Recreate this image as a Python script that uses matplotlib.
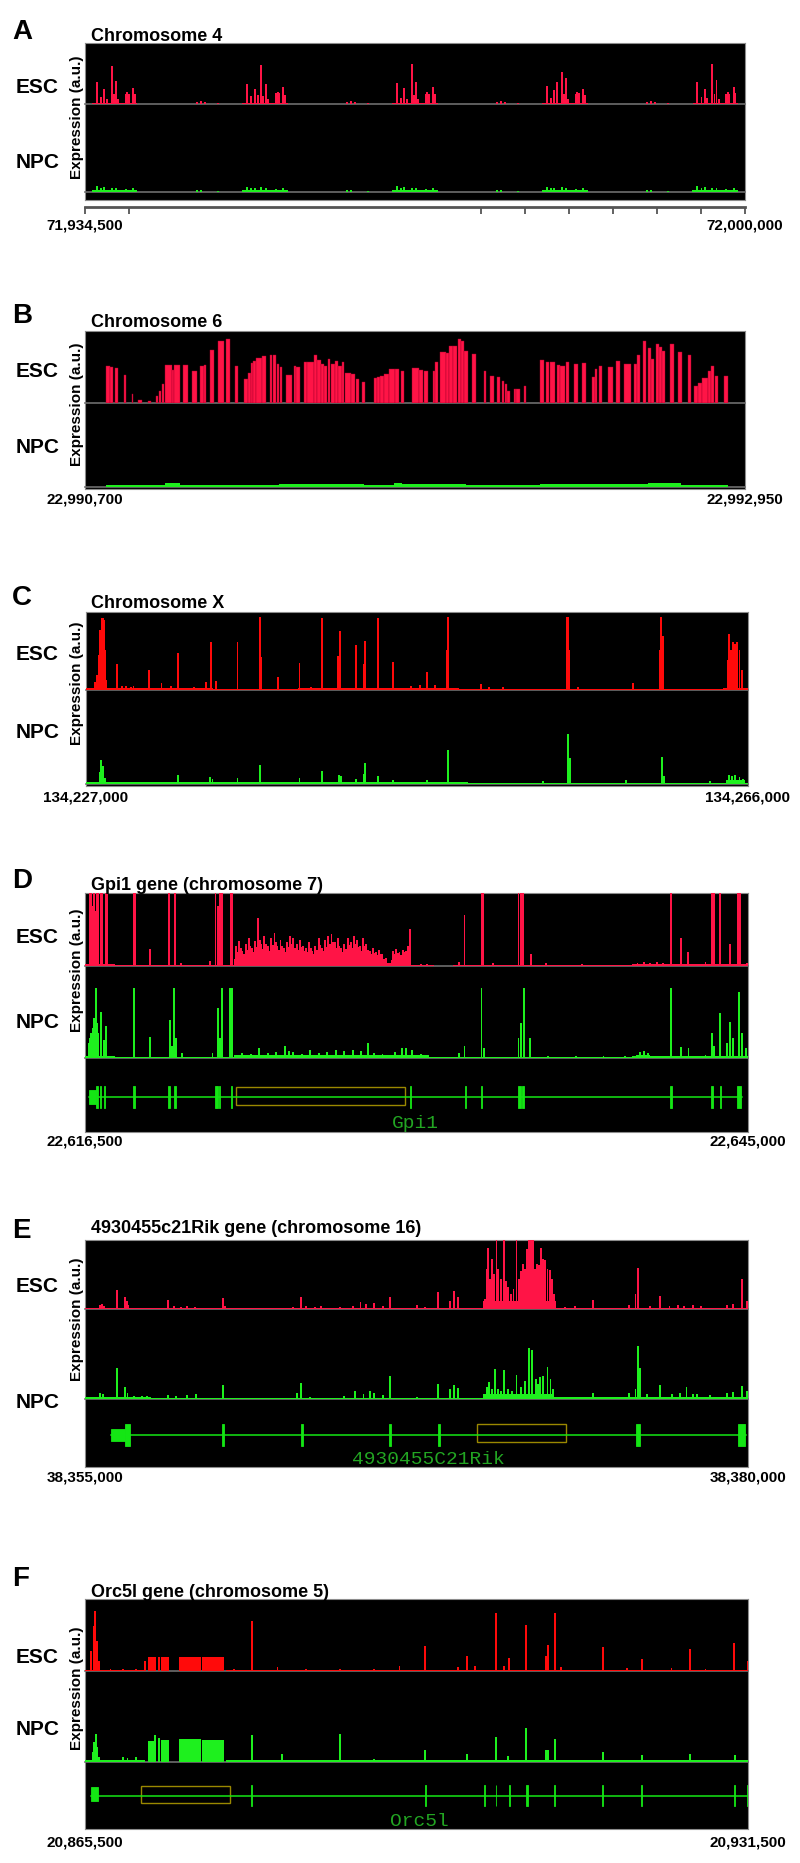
import matplotlib
matplotlib.use("Agg")
import matplotlib.pyplot as plt
from matplotlib.patches import Rectangle

plt.rcParams['font.family'] = ['Liberation Sans', 'DejaVu Sans']

# ---------------------------------------------------------------- data
# genomic windows (bp); all positions below are bp offsets from window start
A_WINDOW = (71934500, 72000000)
B_WINDOW = (22990700, 22992950)
C_WINDOW = (134227000, 134266000)
D_WINDOW = (22616500, 22645000)
E_WINDOW = (38355000, 38380000)
F_WINDOW = (20865500, 20931500)

TITLES = ['Chromosome 4', 'Chromosome 6', 'Chromosome X',
          'Gpi1 gene (chromosome 7)', '4930455c21Rik gene (chromosome 16)',
          'Orc5l gene (chromosome 5)']
LETTERS = ['A', 'B', 'C', 'D', 'E', 'F']
TRACK_NAMES = ['ESC', 'NPC']
Y_LABEL = 'Expression (a.u.)'

A_RULER_TICKS = [0, 4400, 39300, 43700, 48000, 52400, 56800, 61100, 65500]

# ---- panel A (heights in a.u.)
A_ESC_POS = [1161, 1588, 1915, 2153, 2650, 2878, 3076, 3305, 4039, 4198, 4367, 4793, 4962,
             11115, 11512, 11909, 13199,
             16047, 16444, 16871, 17198, 17466, 17695, 17962, 18191, 18925, 19124, 19282, 19679, 19848,
             26001, 26398, 26795, 28085,
             30933, 31360, 31687, 31925, 32421, 32650, 32848, 33077, 33811, 33970, 34138, 34565, 34734,
             40888, 41285, 41682, 42972,
             45819, 46246, 46574, 46812, 47308, 47536, 47734, 47963, 48697, 48856, 49025, 49452, 49620,
             55774, 56171, 56568, 57858,
             60755, 61181, 61509, 61747, 62243, 62471, 62670, 62898, 63633, 63791, 63960, 64387, 64555]
A_ESC_H = [22, 7, 15, 5, 38, 10, 23, 5, 10, 12, 10, 16, 10,
           2.5, 3, 2, 1.5,
           20, 8, 15, 9, 39, 8, 20, 5, 11, 12, 11, 17, 9,
           2.5, 3, 2, 1.5,
           21, 6, 16, 5, 40, 9, 22, 5, 10, 12, 10, 17, 10,
           2.5, 3, 2, 1.5,
           18, 6, 14, 22, 32, 10, 26, 5, 10, 12, 11, 15, 9,
           2.5, 3, 2, 1.5,
           22, 7, 15, 6, 40, 10, 24, 5, 10, 12, 10, 17, 11]
A_ESC_BG = [(700, 5200, 1.5), (15600, 20100, 1.5), (30500, 35000, 1.5),
            (45400, 49900, 1.5), (60300, 64800, 1.5)]
A_NPC_POS = [1161, 1588, 1915, 2650, 3076, 4039, 4793,
             11115, 11512, 13199,
             16047, 16444, 16871, 17466, 17962, 18925, 19679,
             26001, 26398, 28085,
             30933, 31360, 31687, 32421, 32848, 33811, 34565,
             40888, 41285, 42972,
             45819, 46246, 46574, 47308, 47734, 48697, 49452,
             55774, 56171, 57858,
             60755, 61181, 61509, 62243, 62670, 63633, 64387]
A_NPC_H = [6, 4, 5, 4.5, 4, 3.5, 4,
           2, 2, 1.5,
           5.5, 4, 4.5, 5, 4, 3.5, 4,
           2, 2, 1.5,
           6, 4, 5, 4.5, 4, 3.5, 4,
           2, 2, 1.5,
           5, 4, 4.5, 5, 4, 3.5, 4,
           2, 2, 1.5,
           6, 4, 5, 4.5, 4, 3.5, 4]
A_NPC_BG = [(650, 5200, 2.5), (15550, 20100, 2.5), (30450, 35000, 2.5),
            (45350, 49900, 2.5), (60250, 64800, 2.5)]

# ---- panel B (ESC as contiguous bars: start, end, height)
B_ESC_START = [72, 84, 101, 133, 159, 182, 216, 242, 252, 262,
               274, 296, 303, 335, 365, 392, 404, 427, 454, 482,
               513, 541, 555, 565, 574, 584, 603, 629, 640, 656,
               665, 685, 711, 721, 747, 757, 779, 790, 805, 815,
               828, 839, 851, 862, 877, 888, 908, 923, 945, 985,
               995, 1007, 1021, 1038, 1058, 1076, 1115, 1139, 1156, 1185,
               1194, 1211, 1229, 1240, 1255, 1272, 1283, 1293, 1321, 1360,
               1381, 1406, 1420, 1432, 1439, 1461, 1471, 1497, 1550, 1572,
               1586, 1608, 1621, 1640, 1666, 1694, 1728, 1738, 1752, 1784,
               1810, 1837, 1872, 1882, 1901, 1918, 1928, 1947, 1957, 1968,
               1994, 2023, 2055, 2077, 2091, 2105, 2123, 2134, 2149, 2177]
B_ESC_END = [84, 95, 112, 140, 164, 193, 226, 248, 260, 270,
             296, 303, 324, 352, 381, 404, 414, 440, 473, 495,
             521, 555, 565, 574, 584, 603, 617, 637, 652, 663,
             672, 707, 721, 733, 757, 779, 790, 805, 815, 825,
             836, 851, 862, 877, 883, 908, 919, 934, 956, 995,
             1005, 1021, 1035, 1058, 1070, 1087, 1139, 1151, 1171, 1194,
             1204, 1229, 1240, 1255, 1269, 1283, 1293, 1305, 1332, 1367,
             1396, 1416, 1428, 1439, 1448, 1471, 1482, 1505, 1565, 1583,
             1601, 1618, 1635, 1651, 1681, 1709, 1738, 1745, 1762, 1800,
             1824, 1860, 1882, 1892, 1914, 1928, 1940, 1957, 1968, 1976,
             2007, 2036, 2065, 2091, 2102, 2123, 2134, 2146, 2159, 2192]
B_ESC_H = [37, 36, 35, 28, 9, 3, 2, 7, 12, 19,
           38, 33, 38, 38, 32, 37, 38, 53, 62, 64,
           37, 24, 30, 40, 42, 45, 47, 48, 48, 39,
           36, 28, 37, 36, 41, 41, 48, 43, 39, 37,
           44, 39, 42, 37, 41, 30, 29, 24, 21, 25,
           26, 27, 29, 34, 34, 32, 35, 33, 32, 32,
           41, 51, 50, 57, 57, 64, 62, 52, 49, 32,
           27, 26, 22, 19, 12, 14, 14, 17, 43, 41,
           41, 38, 37, 41, 39, 40, 26, 34, 37, 36,
           42, 39, 39, 48, 62, 55, 44, 59, 56, 52,
           59, 51, 48, 17, 20, 25, 32, 37, 27, 27]
B_NPC_BG = [(72, 274, 2.3), (274, 324, 4), (324, 663, 2.5), (663, 952, 3.5),
            (952, 1053, 2.5), (1053, 1082, 4.5), (1082, 1197, 2.8), (1197, 1298, 3),
            (1298, 1550, 2), (1550, 1918, 3.5), (1918, 2033, 4.5), (2033, 2192, 2.2)]

# ---- panel C
C_ESC_POS = [550, 650, 750, 850, 925, 1000, 1075, 1150, 1200, 1825, 2125, 2375, 2625, 2800,
             3700, 4450, 5000, 5425, 6375, 7075, 7350, 7675, 8925, 10275, 10325, 11325, 12575,
             13250, 13900, 14825, 14950, 15900, 16350, 16425, 17225, 18100, 19125, 19675, 20075,
             20550, 21275, 21325, 23250, 23750, 24575, 28325, 28400, 28475, 29000, 32250, 33825,
             33875, 34000, 37800, 37875, 38000, 38125, 38250, 38375, 38500, 38625]
C_ESC_H = [8, 15, 35, 60, 72, 72, 70, 40, 10, 26, 4, 4, 3, 4,
           20, 7, 4, 37, 3, 8, 48, 9, 48, 73, 33, 13, 27,
           3, 72, 34, 59, 45, 26, 49, 72, 28, 4, 5, 18,
           5, 40, 73, 6, 3, 3, 73, 73, 40, 3, 7, 40,
           73, 54, 30, 56, 40, 48, 46, 48, 40, 20]
C_ESC_BG = [(0, 500, 2), (1200, 3000, 2.5), (3000, 7500, 2), (7500, 12500, 1.5),
            (12500, 22000, 2), (22000, 25000, 1.5), (25000, 37500, 1.2), (37500, 39000, 2)]
C_NPC_POS = [825, 900, 1000, 1125, 5425, 7325, 7450, 8925, 10275, 12575, 13900, 14925, 15000,
             15900, 16350, 16425, 17225, 18100, 20075, 21325, 26925, 28375, 28500, 31825, 33925,
             34050, 36750, 37875, 38050, 38250, 38500, 38700]
C_NPC_H = [12, 24, 18, 6, 9, 7, 5, 6, 19, 6, 13, 9, 8,
           5, 10, 21, 8, 4, 4, 34, 3, 50, 26, 4, 27,
           8, 3, 9, 8, 9, 7, 5]
C_NPC_BG = [(0, 750, 1.8), (750, 1150, 6), (1150, 22500, 1.8), (22500, 39000, 1.2),
            (37700, 38800, 4)]

# ---- panel D
D_ESC_POS = [219, 274, 329, 384, 438, 493, 566, 676, 749, 895, 950, 1188, 2101, 2138, 2777,
             3599, 3855, 4111, 5390, 5609, 5700, 5810, 5883, 6267, 6321,
             6486, 6614, 6760, 6906, 7034, 7162, 7308, 7454, 7582, 7710, 7856, 8002, 8148, 8276,
             8404, 8550, 8678, 8806, 8952, 9098, 9226, 9354, 9500, 9647, 9774, 9902, 10048,
             10176, 10322, 10450, 10597, 10743, 10871, 10999, 11145, 11291, 11419, 11547, 11693,
             11839, 11967, 12095, 12241, 12387, 12515, 12643, 12789, 12935, 13246, 13374, 13520,
             13666, 13794, 13885, 13977,
             14433, 14707, 16078, 16315, 17046, 17101, 17539, 18635, 18727, 18818, 19184, 19823,
             21376, 22472, 23751, 24025, 24299, 24573, 24847, 25176, 25633, 25907, 26674, 26948,
             27021, 27314, 27734, 28081, 28172, 28446]
D_ESC_H = [75, 75, 60, 75, 55, 75, 75, 75, 75, 75, 75, 2, 75, 75, 17,
           75, 75, 3, 5, 75, 60, 75, 75, 75, 75,
           20, 25, 15, 22, 28, 18, 25, 48, 22, 30, 20, 28, 33, 20,
           26, 18, 24, 30, 28, 22, 26, 20, 18, 24, 15, 20, 28,
           18, 26, 30, 32, 24, 28, 18, 22, 28, 24, 30, 26,
           20, 28, 22, 15, 18, 14, 16, 12, 8, 15, 17, 14,
           16, 15, 20, 37,
           2, 2, 4, 51, 75, 75, 3, 75, 75, 75, 12, 3,
           2, 1.5, 3, 4, 3, 4, 3, 75, 28, 14, 4, 75,
           75, 75, 22, 75, 75, 3]
# extra spikes of the dense ESC region between exons (between the main spikes above)
D_ESC_FILL_POS = [6550, 6690, 6830, 6970, 7100, 7235, 7380, 7520, 7645, 7785, 7930, 8075,
                  8210, 8340, 8480, 8615, 8740, 8880, 9025, 9160, 9290, 9425, 9575, 9710,
                  9840, 9975, 10110, 10250, 10385, 10520, 10670, 10805, 10935, 11070, 11220,
                  11355, 11480, 11620, 11765, 11905, 12030, 12170, 12315, 12450, 12580, 12715,
                  13310, 13445, 13590, 13730]
D_ESC_FILL_H = [14, 18, 12, 16, 20, 14, 19, 26, 17, 22, 15, 21,
                24, 16, 20, 14, 19, 22, 18, 16, 19, 15, 14, 18,
                12, 16, 21, 15, 19, 22, 24, 18, 20, 14, 17,
                21, 18, 22, 19, 15, 20, 16, 12, 13, 11, 12,
                12, 13, 11, 14]
D_ESC_BG = [(0, 1300, 2), (1300, 6400, 1.5), (6400, 12900, 7), (12900, 13150, 3),
            (13150, 14000, 6), (14000, 15000, 1.5), (15800, 21000, 1.5), (21000, 23500, 0.8),
            (23500, 28500, 2)]
D_NPC_POS = [219, 274, 329, 402, 457, 512, 566, 694, 822, 914, 2101, 2777, 3654, 3745, 3837,
             3928, 4166, 5481, 5700, 5810, 5883, 6230, 6303,
             6760, 7125, 7491, 7856, 8222, 8587, 8770, 8952, 9318, 9683, 10049, 10414, 10779,
             11145, 11510, 11876, 12150, 12424, 12789, 13337, 13611, 13794, 14068, 14433,
             16078, 16315, 17046, 17137, 18635, 18727, 18873, 19147, 19914, 21102, 22289, 23203,
             23842, 24025, 24208, 25176, 25633, 25943, 26674, 26948, 27040, 27314, 27588, 27734,
             27862, 28099, 28227, 28410]
D_NPC_H = [20, 25, 30, 40, 70, 35, 25, 46, 18, 32, 70, 21, 38, 12, 70,
           20, 5, 5, 50, 20, 70, 70, 70,
           5, 4, 10, 5, 6, 12, 7, 6, 4, 8, 5, 6, 8,
           7, 8, 7, 15, 5, 4, 6, 10, 10, 8, 4,
           5, 12, 70, 10, 20, 35, 70, 20, 2, 2, 2, 2,
           6, 7, 5, 70, 11, 10, 3, 25, 12, 45, 15, 36,
           20, 66, 25, 10]
D_NPC_BG = [(0, 1300, 2), (150, 600, 15), (1300, 6400, 1.5), (6400, 14800, 3),
            (14800, 20000, 1.5), (20000, 23500, 0.8), (23500, 28500, 2), (23700, 24300, 3.5)]
D_GENE = 'Gpi1'
D_GENE_SPAN = (183, 28227)
D_UTR = [(183, 457)]
D_EXON_START = [475, 639, 804, 2065, 3581, 3818, 5572, 5755, 6267, 13977, 16315, 17028,
                18599, 18782, 25158, 26930, 27277, 28044]
D_EXON_END = [548, 694, 877, 2156, 3654, 3910, 5700, 5810, 6321, 14031, 16370, 17082,
              18727, 18891, 25213, 26985, 27350, 28191]
D_ROI = (6486, 13739)

# ---- panel E
E_ESC_POS = [561, 641, 721, 1218, 1523, 1571, 1635, 1924, 2244, 3126,
             3366, 3607, 3847, 4136, 5210, 5290, 7374, 7855, 8143, 8336,
             8656, 8897, 9618, 10099, 10387, 10580, 10900, 11221, 11494, 12503,
             12824, 13305, 13754, 13914, 14074,
             15068, 15148, 15180, 15261, 15357, 15421, 15517, 15581, 15677, 15790,
             15870, 15966, 16062, 16158, 16270, 16351, 16431, 16511, 16591, 16671,
             16751, 16815, 16879, 16959, 17040, 17120, 17200, 17280, 17360, 17441,
             17521, 17601, 17681,
             18114, 18483, 19156, 20518, 20759, 20839, 21320, 21689, 22041, 22362,
             22602, 22923, 23244, 24205, 24446, 24766, 24960]
E_ESC_H = [4, 5, 3, 19, 12, 8, 4, 1.5, 1.5, 9,
           3, 2, 3, 2.5, 11, 3, 1.5, 2, 12, 3,
           2, 3, 2, 3, 7, 5, 6, 3, 12, 4,
           2, 17, 8, 18, 12,
           10, 40, 61, 30, 50, 35, 75, 40, 30, 75,
           28, 22, 15, 20, 75, 30, 38, 45, 40, 60,
           75, 75, 75, 40, 45, 44, 61, 50, 49, 40,
           39, 30, 15,
           2, 3, 9, 4, 15, 41, 3, 13, 3, 4,
           3, 4, 3, 4, 5, 30, 8]
E_ESC_BG = [(0, 15000, 1), (15000, 17750, 8), (17750, 25000, 1.2)]
E_NPC_POS = [561, 673, 1218, 1523, 1603, 1843, 2164, 2324, 3126, 3446,
             3847, 4200, 5210, 7983, 8143, 8496, 9778, 10179, 10500, 10740,
             10900, 11221, 11494, 12503, 13305, 13754, 13914, 14074,
             15148, 15229, 15357, 15469, 15581, 15677, 15790, 15950, 16110, 16270,
             16431, 16591, 16751, 16864, 16992, 17072, 17152, 17280, 17441, 17553,
             17633,
             19156, 20518, 20759, 20839, 20919, 21192, 21689, 22121, 22442, 22682,
             22923, 23083, 23564, 24205, 24446, 24766, 24960]
E_NPC_H = [6, 5, 31, 12, 6, 3, 3, 3, 4, 3,
           4, 5, 14, 6, 16, 2, 3, 8, 5, 8,
           6, 4, 23, 2, 15, 10, 14, 11,
           12, 17, 10, 30, 10, 8, 29, 10, 8, 24,
           12, 18, 51, 49, 20, 15, 22, 23, 32, 20,
           10,
           6, 6, 10, 53, 31, 5, 14, 5, 6, 12,
           5, 5, 4, 6, 7, 13, 8]
E_NPC_BG = [(0, 2500, 2), (2500, 15000, 1.5), (15000, 17700, 5), (17700, 25000, 2)]
E_GENE = '4930455C21Rik'
E_GENE_SPAN = (962, 24927)
E_UTR = [(962, 1523)]
E_EXON_START = [1523, 5162, 8143, 11477, 13305, 20759, 24638]
E_EXON_END = [1683, 5258, 8207, 11542, 13369, 20919, 24879]
E_ROI = (14796, 18146)

# ---- panel F
F_ESC_POS = [635, 846, 1015, 1185, 1354, 2539, 3808, 5077, 5966, 14809,
             16586, 19166, 22001, 25386, 28771, 31309, 33848, 37148, 37994, 38841,
             40956, 41675, 42225, 43918, 45864, 46118, 46753, 47387, 51534, 53945,
             55426, 58388, 60207, 61773, 64650, 65950]
F_ESC_H = [20, 45, 60, 30, 10, 2, 2, 2, 10, 2,
           50, 4, 2, 2, 2, 5, 25, 4, 15, 5,
           58, 5, 13, 46, 15, 26, 58, 4, 24, 3,
           12, 3, 22, 2, 28, 10]
F_ESC_BLOCKS = [(6262, 7108, 14), (7235, 7447, 14), (7531, 8335, 14),
                (9393, 11551, 14), (11678, 13878, 14)]
F_ESC_BG = [(0, 6000, 1.5), (14000, 66000, 1.5)]
F_NPC_POS = [762, 931, 1058, 1185, 1354, 3808, 4231, 5077, 6981, 16586,
             19589, 25386, 28771, 33848, 37994, 40956, 42098, 43918, 45906, 46118,
             46753, 51534, 55426, 60207, 64735]
F_NPC_H = [10, 20, 28, 15, 5, 5, 4, 5, 27, 27,
           8, 28, 3, 12, 8, 25, 6, 34, 12, 12,
           23, 10, 7, 8, 7]
F_NPC_BLOCKS = [(6262, 7108, 21), (7235, 7447, 24), (7531, 8335, 22),
                (9393, 11551, 23), (11678, 13878, 22)]
F_NPC_BG = [(0, 6000, 2.5), (14000, 66000, 2.5)]
F_GENE = 'Orc5l'
F_GENE_SPAN = (635, 66000)
F_UTR = [(635, 1269)]
F_EXON_START = [16550, 33800, 39720, 40870, 42180, 43950, 46700, 51480, 55380, 64600, 65880]
F_EXON_END = [16650, 33900, 39820, 40960, 42270, 44050, 46800, 51580, 55470, 64700, 65980]
F_ROI = (5585, 14470)

# ---------------------------------------------------------------- style / layout
CRIMSON = '#ff1446'
RED = '#ff0a0a'
GREEN = '#1ef01e'
GENE_GREEN = '#14e614'
LABEL_GREEN = '#22a522'
ROI_COLOR = '#9a8800'
BASE = '#6e6e6e'

W, H = 800, 1863
fig = plt.figure(figsize=(W / 100, H / 100), dpi=100)
fig.patch.set_facecolor('white')


def frac(x0, x1, y0, y1):
    return [x0 / W, 1 - y1 / H, (x1 - x0) / W, (y1 - y0) / H]


def fy(y):
    return 1 - y / H


PANELS = [
    dict(win=A_WINDOW, esc=(A_ESC_POS, A_ESC_H, A_ESC_BG, []), npc=(A_NPC_POS, A_NPC_H, A_NPC_BG, []),
         esc_color=CRIMSON, gene=None,
         x=(85, 745), box=(43, 200), esc_y=(43, 104), npc_y=(104, 192),
         letter_y=39, title_y=41, esc_lab=93, npc_lab=168, expr=117.5, pad=None),
    dict(win=B_WINDOW, esc=None, npc=([], [], B_NPC_BG, []),
         esc_color=CRIMSON, gene=None,
         x=(85, 745), box=(331, 489), esc_y=(331, 403), npc_y=(403, 487),
         letter_y=323, title_y=327, esc_lab=377, npc_lab=453, expr=404, pad=2.5),
    dict(win=C_WINDOW, esc=(C_ESC_POS, C_ESC_H, C_ESC_BG, []), npc=(C_NPC_POS, C_NPC_H, C_NPC_BG, []),
         esc_color=RED, gene=None,
         x=(86, 748), box=(612, 786), esc_y=(612, 690), npc_y=(690, 784),
         letter_y=605, title_y=608, esc_lab=660, npc_lab=738, expr=683.5, pad=3.0),
    dict(win=D_WINDOW, esc=(D_ESC_POS + D_ESC_FILL_POS, D_ESC_H + D_ESC_FILL_H, D_ESC_BG, []),
         npc=(D_NPC_POS, D_NPC_H, D_NPC_BG, []),
         esc_color=CRIMSON,
         gene=dict(name=D_GENE, span=D_GENE_SPAN, utr=D_UTR, ex=(D_EXON_START, D_EXON_END), roi=D_ROI,
                   y=(1058, 1132), line=1097, exon=(1086, 1108), utr_y=(1090, 1104), roi_y=(1087, 1105), label=1123),
         x=(85, 748), box=(893, 1132), esc_y=(893, 966), npc_y=(966, 1058),
         letter_y=888, title_y=890, esc_lab=943, npc_lab=1028, expr=970, pad=1.8),
    dict(win=E_WINDOW, esc=(E_ESC_POS, E_ESC_H, E_ESC_BG, []), npc=(E_NPC_POS, E_NPC_H, E_NPC_BG, []),
         esc_color=CRIMSON,
         gene=dict(name=E_GENE, span=E_GENE_SPAN, utr=E_UTR, ex=(E_EXON_START, E_EXON_END), roi=E_ROI,
                   y=(1399, 1467), line=1435, exon=(1424, 1446), utr_y=(1429, 1441), roi_y=(1424, 1442), label=1460),
         x=(85, 748), box=(1240, 1467), esc_y=(1240, 1309), npc_y=(1309, 1399),
         letter_y=1238, title_y=1233, esc_lab=1292, npc_lab=1408, expr=1319, pad=2.5),
    dict(win=F_WINDOW, esc=(F_ESC_POS, F_ESC_H, F_ESC_BG, F_ESC_BLOCKS),
         npc=(F_NPC_POS, F_NPC_H, F_NPC_BG, F_NPC_BLOCKS),
         esc_color=RED,
         gene=dict(name=F_GENE, span=F_GENE_SPAN, utr=F_UTR, ex=(F_EXON_START, F_EXON_END), roi=F_ROI,
                   y=(1762, 1829), line=1796, exon=(1785, 1806), utr_y=(1787, 1801), roi_y=(1786, 1803), label=1821),
         x=(85, 748), box=(1599, 1829), esc_y=(1599, 1671), npc_y=(1671, 1762),
         letter_y=1586, title_y=1597, esc_lab=1663, npc_lab=1735, expr=1688, pad=4.5),
]


def track_axes(p, y0, y1, span):
    ax = fig.add_axes(frac(p['x'][0], p['x'][1], y0, y1))
    ax.set_xlim(0, span)
    ax.set_ylim(0, y1 - y0)
    ax.axis('off')
    return ax


def draw_track(ax, data, color, span, px_w):
    pos, hts, bg, blocks = data
    w = span / px_w * 1.9
    for s, e, v in bg:
        ax.bar(s, v, width=e - s, align='edge', color=color, linewidth=0)
    for s, e, v in blocks:
        ax.bar(s, v, width=e - s, align='edge', color=color, linewidth=0)
    if len(pos):
        ax.bar(pos, hts, width=w, color=color, linewidth=0)
    ax.axhline(0, color=BASE, lw=1.2, clip_on=False, zorder=0.5)


tick_font = dict(fontsize=11, fontweight='bold')

for i, p in enumerate(PANELS):
    start, end = p['win']
    span = end - start
    x0, x1 = p['x']
    px_w = x1 - x0
    labels = [f'{start:,}', f'{end:,}']

    frame = fig.add_axes(frac(x0, x1, p['box'][0], p['box'][1]))
    frame.set_facecolor('black')
    frame.set_xlim(0, span)
    frame.set_yticks([])
    for sp in frame.spines.values():
        sp.set_color('#8c8c8c')
        sp.set_linewidth(0.8)
    if p['pad'] is None:
        frame.set_xticks([])
    else:
        frame.set_xticks([0, span])
        frame.set_xticklabels(labels, **tick_font)
        frame.tick_params(axis='x', length=0, pad=p['pad'])

    # ESC track
    ax_e = track_axes(p, p['esc_y'][0], p['esc_y'][1], span)
    if p['esc'] is not None:
        draw_track(ax_e, p['esc'], p['esc_color'], span, px_w)
    else:
        widths = [e - s for s, e in zip(B_ESC_START, B_ESC_END)]
        ax_e.bar(B_ESC_START, B_ESC_H, width=widths, align='edge', color=CRIMSON,
                 edgecolor='#a8002a', linewidth=0.3)
        ax_e.axhline(0, color=BASE, lw=1.2, clip_on=False, zorder=0.5)

    # NPC track
    ax_n = track_axes(p, p['npc_y'][0], p['npc_y'][1], span)
    draw_track(ax_n, p['npc'], GREEN, span, px_w)

    # gene model
    g = p['gene']
    if g is not None:
        ax_g = fig.add_axes(frac(x0, x1, g['y'][0], g['y'][1]))
        ax_g.set_xlim(0, span)
        ax_g.set_ylim(g['y'][1], g['y'][0])
        ax_g.axis('off')
        ax_g.plot(g['span'], [g['line'], g['line']], color=GENE_GREEN, lw=1.1)
        for s, e in g['utr']:
            ax_g.add_patch(Rectangle((s, g['utr_y'][0]), e - s, g['utr_y'][1] - g['utr_y'][0],
                                     facecolor=GENE_GREEN, edgecolor=GENE_GREEN, lw=0.6))
        for s, e in zip(*g['ex']):
            ax_g.add_patch(Rectangle((s, g['exon'][0]), e - s, g['exon'][1] - g['exon'][0],
                                     facecolor=GENE_GREEN, edgecolor=GENE_GREEN, lw=0.6))
        r0, r1 = g['roi']
        ax_g.add_patch(Rectangle((r0, g['roi_y'][0]), r1 - r0, g['roi_y'][1] - g['roi_y'][0],
                                 fill=False, edgecolor=ROI_COLOR, lw=1.0))
        ax_g.text(sum(g['span']) / 2, g['label'], g['name'], ha='center', va='center',
                  family=['Liberation Mono', 'DejaVu Sans Mono'], fontsize=14, color=LABEL_GREEN)

    # ruler for panel A
    if p['pad'] is None:
        ruler = fig.add_axes(frac(x0, x1, p['box'][1], 207))
        ruler.patch.set_visible(False)
        ruler.set_xlim(0, span)
        ruler.set_yticks([])
        for name in ('top', 'left', 'right'):
            ruler.spines[name].set_visible(False)
        ruler.spines['bottom'].set_color('#555555')
        ruler.spines['bottom'].set_linewidth(2)
        ruler.set_xticks(A_RULER_TICKS)
        ruler.set_xticklabels([labels[0]] + [''] * (len(A_RULER_TICKS) - 2) + [labels[1]], **tick_font)
        ruler.tick_params(axis='x', direction='out', length=5, width=1.3, color='#555555', pad=3.5)

    # texts
    fig.text(12 / W, fy(p['letter_y']), LETTERS[i], fontsize=20, fontweight='bold', va='baseline')
    fig.text(91 / W, fy(p['title_y']), TITLES[i], fontsize=13, fontweight='bold', va='baseline')
    fig.text(16 / W, fy(p['esc_lab']), TRACK_NAMES[0], fontsize=15, fontweight='bold', va='baseline')
    fig.text(16 / W, fy(p['npc_lab']), TRACK_NAMES[1], fontsize=15, fontweight='bold', va='baseline')
    fig.text(77.5 / W, fy(p['expr']), Y_LABEL, rotation=90, fontsize=11, fontweight='bold',
             ha='center', va='center')

fig.savefig('out.png', dpi=100, facecolor='white')
